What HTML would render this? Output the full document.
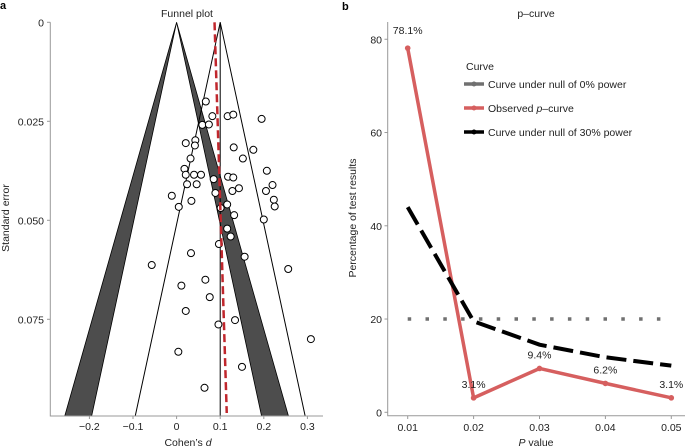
<!DOCTYPE html>
<html><head><meta charset="utf-8"><style>
body{margin:0;background:#fff;}
svg{display:block;font-family:"Liberation Sans",sans-serif;}
</style></head><body>
<svg id="chart" width="685" height="448" viewBox="0 0 685 448" xmlns="http://www.w3.org/2000/svg">
<text x="0" y="9" font-size="11" font-weight="bold">a</text>
<text x="342" y="10" font-size="11" font-weight="bold">b</text>
<g id="funnel"></g>
<g id="pcurve"></g>
</svg>
<script>
const studyD=[0.067,0.082,0.117,0.130,0.195,0.059,0.074,0.043,0.021,0.042,0.131,0.176,0.032,0.152,0.018,0.207,0.021,0.040,0.056,0.118,0.130,0.085,0.220,0.024,0.046,0.143,0.128,0.089,0.205,-0.011,0.223,0.034,0.005,0.225,0.116,0.101,0.132,0.200,0.116,0.124,0.097,0.033,0.156,-0.057,0.256,0.066,0.011,0.076,0.021,0.096,0.134,0.308,0.004,0.150,0.064];
const studySE=[0.0200,0.0237,0.0237,0.0233,0.0244,0.0259,0.0258,0.0298,0.0305,0.0311,0.0316,0.0322,0.0344,0.0344,0.0370,0.0375,0.0385,0.0385,0.0385,0.0390,0.0392,0.0396,0.0411,0.0409,0.0409,0.0419,0.0426,0.0431,0.0426,0.0438,0.0448,0.0451,0.0466,0.0465,0.0460,0.0469,0.0487,0.0498,0.0521,0.0541,0.0560,0.0583,0.0592,0.0613,0.0623,0.0650,0.0665,0.0694,0.0729,0.0763,0.0752,0.0800,0.0832,0.0870,0.0923];
const dTicks=[-0.2,-0.1,0,0.1,0.2,0.3];
const dTickLabels=["−0.2","−0.1","0","0.1","0.2","0.3"];
const seTicks=[0,0.025,0.05,0.075];
const seTickLabels=["0","0.025","0.050","0.075"];
const pValues=[0.01,0.02,0.03,0.04,0.05];
const pLabels=["0.01","0.02","0.03","0.04","0.05"];
const observed=[78.1,3.1,9.4,6.2,3.1];
const observedLabels=["78.1%","3.1%","9.4%","6.2%","3.1%"];
const null30=[44,19.5,14.5,11.8,10];
const null0=[20,20,20,20,20];
const yTicks=[0,20,40,60,80];
const NS="http://www.w3.org/2000/svg";
function mk(p,tag,attrs,txt){const e=document.createElementNS(NS,tag);for(const k in attrs)e.setAttribute(k,attrs[k]);if(txt!==undefined)e.textContent=txt;p.appendChild(e);return e;}
// ---- funnel
const F=document.getElementById('funnel');
const xd=d=>176.6+436*d, ys=s=>22.3+3960*s;
const seMax=(416-22.3)/3960;
const yB=416;
// dark bands (between 1.96 and 2.58 contours around 0)
let el;
el=mk(F,'polygon',{points:`${xd(0)},${ys(0)} ${xd(-2.58*seMax)},${yB} ${xd(-1.96*seMax)},${yB}`,fill:'#4d4d4d',stroke:'#000','stroke-width':0.8});


el=mk(F,'polygon',{points:`${xd(0)},${ys(0)} ${xd(2.58*seMax)},${yB} ${xd(1.96*seMax)},${yB}`,fill:'#4d4d4d',stroke:'#000','stroke-width':0.8});


el=mk(F,'polyline',{points:`${xd(0.1-1.96*seMax)},${yB} ${xd(0.1)},${ys(0)} ${xd(0.1+1.96*seMax)},${yB}`,fill:'none',stroke:'#000','stroke-width':1});


el=mk(F,'line',{x1:xd(0.1),y1:ys(0),x2:xd(0.1),y2:yB,stroke:'#000','stroke-width':1});


for(let i=0;i<studyD.length;i++){
  el=mk(F,'circle',{cx:xd(studyD[i]),cy:ys(studySE[i]),r:3.5,fill:'#fff',stroke:'#000','stroke-width':1});
  
  
}
el=mk(F,'line',{x1:xd(0.087),y1:ys(0),x2:xd(0.115),y2:yB-3,stroke:'#c0272d','stroke-width':2.5,'stroke-dasharray':'8 4'});


el=mk(F,'path',{d:`M50.3,${ys(0)} V${yB} H323`,fill:'none',stroke:'#999','stroke-width':1});


dTicks.forEach((t,i)=>{
  mk(F,'line',{x1:xd(t),y1:yB,x2:xd(t),y2:yB+3,stroke:'#999'});
  el=mk(F,'text',{x:xd(t),y:yB+14,'font-size':10.5,'text-anchor':'middle',fill:'#222'},dTickLabels[i]);
  
  
});
seTicks.forEach((t,i)=>{
  mk(F,'line',{x1:47,y1:ys(t),x2:50.3,y2:ys(t),stroke:'#999'});
  el=mk(F,'text',{x:44,y:ys(t)+4,'font-size':10.5,'text-anchor':'end',fill:'#222'},seTickLabels[i]);
  
  
});
el=mk(F,'text',{x:187,y:17,'font-size':10.5,'text-anchor':'middle',fill:'#222'},'Funnel plot');


el=mk(F,'text',{x:188,y:446,'font-size':10.5,'text-anchor':'middle',fill:'#222'});
el.innerHTML='Cohen\u2019s <tspan font-style="italic">d</tspan>';


el=mk(F,'text',{x:9,y:218,'font-size':10.5,'text-anchor':'middle',fill:'#222',transform:'rotate(-90 9 218)'},'Standard error');


// ---- p-curve
const P=document.getElementById('pcurve');
const xp=p=>407.7+(p-0.01)*6590, yp=v=>412.3-4.663*v;
el=mk(P,'polyline',{points:pValues.map((p,i)=>`${xp(p)},${yp(null0[i])}`).join(' '),fill:'none',stroke:'#707070','stroke-width':3.5,'stroke-dasharray':'3.5 14.3'});


el=mk(P,'polyline',{points:pValues.map((p,i)=>`${xp(p)},${yp(observed[i])}`).join(' '),fill:'none',stroke:'#d65f5f','stroke-width':3.5,'stroke-linejoin':'round'});


pValues.forEach((p,i)=>{
  el=mk(P,'circle',{cx:xp(p),cy:yp(observed[i]),r:2.8,fill:'#d65f5f'});
  
  
  const off=i===0?-14:-10;
  el=mk(P,'text',{x:xp(p),y:yp(observed[i])+off,'font-size':10.5,'text-anchor':'middle',fill:'#222'},observedLabels[i]);
  
  
});
el=mk(P,'polyline',{points:pValues.map((p,i)=>`${xp(p)},${yp(null30[i])}`).join(' '),fill:'none',stroke:'#000','stroke-width':4,'stroke-dasharray':'20 7'});


el=mk(P,'path',{d:`M387.7,22 V415.7 H685`,fill:'none',stroke:'#999','stroke-width':1});


pValues.forEach((p,i)=>{
  mk(P,'line',{x1:xp(p),y1:415.7,x2:xp(p),y2:419,stroke:'#999'});
  el=mk(P,'text',{x:xp(p),y:431,'font-size':10.5,'text-anchor':'middle',fill:'#222'},pLabels[i]);
  
  
});
yTicks.forEach(t=>{
  mk(P,'line',{x1:384.5,y1:yp(t),x2:387.7,y2:yp(t),stroke:'#999'});
  el=mk(P,'text',{x:382,y:yp(t)+4,'font-size':10.5,'text-anchor':'end',fill:'#222'},String(t));
  
  
});
el=mk(P,'text',{x:536,y:17,'font-size':10.5,'text-anchor':'middle',fill:'#222'},'p–curve');


el=mk(P,'text',{x:536,y:446,'font-size':10.5,'text-anchor':'middle',fill:'#222'});
el.innerHTML='<tspan font-style="italic">P</tspan> value';


el=mk(P,'text',{x:356,y:218,'font-size':10.5,'text-anchor':'middle',fill:'#222',transform:'rotate(-90 356 218)'},'Percentage of test results');


// legend
const L=mk(P,'g',{});


mk(L,'text',{x:466,y:70,'font-size':10.5,fill:'#222'},'Curve');
const leg=[['#707070','Curve under null of 0% power',84,'legend-null-0'],['#d65f5f','Observed p–curve',108,'legend-observed'],['#000','Curve under null of 30% power',132,'legend-null-30']];
leg.forEach(l=>{
  const g=mk(L,'g',{});
  
  
  mk(g,'line',{x1:464,y1:l[2],x2:484,y2:l[2],stroke:l[0],'stroke-width':3.5});
  mk(g,'circle',{cx:474,cy:l[2],r:2.5,fill:l[0]});
  const t=mk(g,'text',{x:488,y:l[2]+4,'font-size':10.5,fill:'#222'});
  if(l[3]==='legend-observed')t.innerHTML='Observed <tspan font-style="italic">p</tspan>–curve';else t.textContent=l[1];
});
</script>
</body></html>
